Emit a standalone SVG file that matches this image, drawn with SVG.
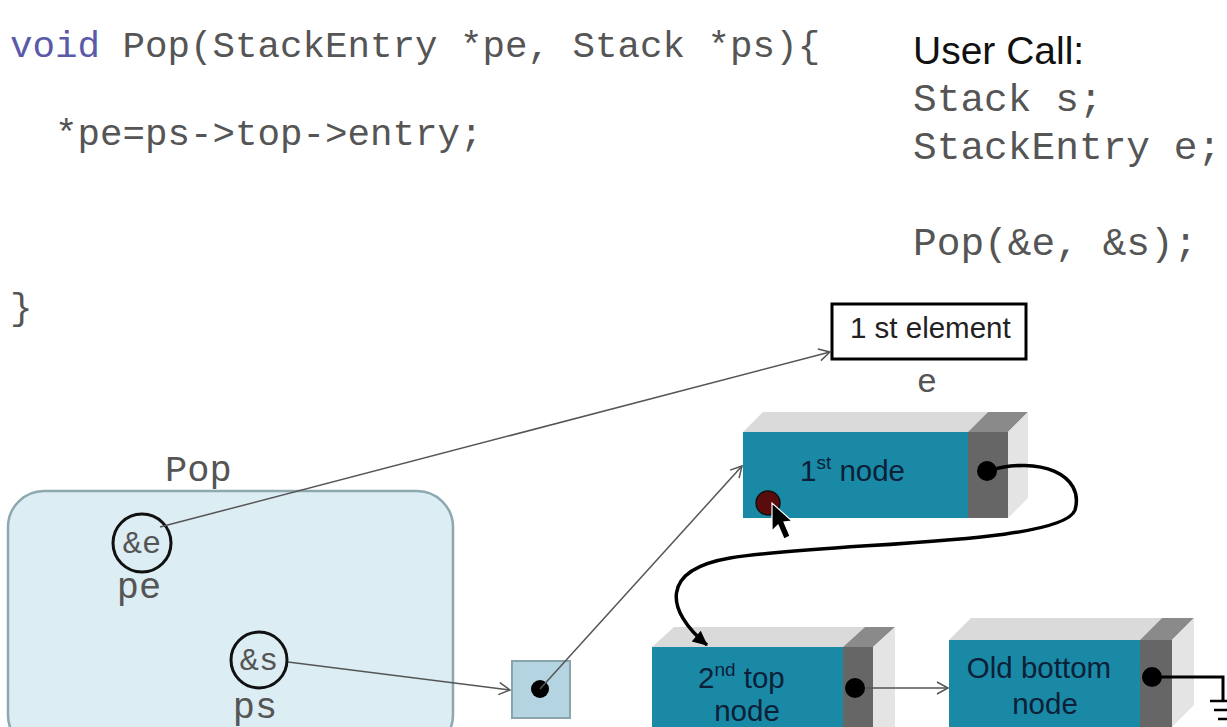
<svg xmlns="http://www.w3.org/2000/svg" width="1227" height="727" viewBox="0 0 1227 727">
<style>
.code{font-family:"Liberation Mono","Courier New",monospace;fill:#555555}
.sans{font-family:"Liberation Sans",Arial,sans-serif}
.node{font-family:"Liberation Sans",Arial,sans-serif;font-size:29.5px;fill:#0c2038}
.teal{fill:#1a89a6}
.grayf{fill:#666666}
.top{fill:#dadada}
.topd{fill:#8a8a8a}
.side{fill:#e4e4e4}
.thin{stroke:#555;stroke-width:1.5;fill:none}
</style>
<defs>
<marker id="open" markerUnits="userSpaceOnUse" markerWidth="16" markerHeight="16" refX="13" refY="8" orient="auto">
<path d="M2,2 L13,8 L2,14" fill="none" stroke="#555" stroke-width="1.5"/>
</marker>
<marker id="solid" markerUnits="userSpaceOnUse" markerWidth="20" markerHeight="20" refX="16" refY="10" orient="auto">
<path d="M2,3 L17,10 L2,17 Z" fill="#000"/>
</marker>
</defs>
<rect width="1227" height="727" fill="#ffffff"/>

<g id="code">
<text class="code" x="10" y="57" font-size="37.5"><tspan fill="#5a5aa8">void</tspan> Pop(StackEntry *pe, Stack *ps){</text>
<text class="code" x="55" y="145" font-size="37.5">*pe=ps-&gt;top-&gt;entry;</text>
<text class="code" x="10" y="319" font-size="37.5">}</text>
</g>

<g id="usercall">
<text class="sans" x="913" y="64" font-size="39" fill="#111">User Call:</text>
<text class="code" x="913" y="111" font-size="39.5">Stack s;</text>
<text class="code" x="913" y="159" font-size="39.5">StackEntry e;</text>
<text class="code" x="913" y="255" font-size="39.5">Pop(&amp;e, &amp;s);</text>
</g>

<g id="pop-frame">
<rect x="8" y="491" width="445" height="260" rx="36" fill="#dcedf3" stroke="#8ea8b0" stroke-width="2.5"/>
<text class="code" x="165" y="481" font-size="37" fill="#555">Pop</text>
</g>

<g id="pe">
<circle cx="142" cy="543" r="29" fill="none" stroke="#111" stroke-width="3"/>
<text class="code" x="142" y="553" font-size="32" text-anchor="middle" fill="#333">&amp;e</text>
<text class="code" x="139" y="598" font-size="37" text-anchor="middle" fill="#444">pe</text>
</g>

<g id="ps">
<circle cx="259" cy="660" r="28" fill="none" stroke="#111" stroke-width="3"/>
<text class="code" x="259" y="670" font-size="32" text-anchor="middle" fill="#333">&amp;s</text>
<text class="code" x="255" y="718" font-size="37" text-anchor="middle" fill="#444">ps</text>
</g>

<g id="stack-s">
<rect x="512" y="661" width="58" height="57" fill="#b4d4e1" stroke="#8aa4ad" stroke-width="2"/>
<circle cx="540" cy="689" r="9" fill="#000"/>
</g>

<g id="element-e">
<rect x="832" y="304" width="194" height="55" fill="#fff" stroke="#000" stroke-width="3"/>
<text class="sans" x="850" y="338" font-size="29.5" fill="#222">1 st element</text>
<text class="code" x="927" y="392" font-size="34" text-anchor="middle" fill="#666">e</text>
</g>

<g id="node1">
<polygon class="top" points="743,432 968,432 988,412 763,412"/>
<polygon class="topd" points="968,432 1008,432 1028,412 988,412"/>
<polygon class="side" points="1008,432 1028,412 1028,498 1008,518"/>
<rect class="teal" x="743" y="432" width="225" height="86"/>
<rect class="grayf" x="968" y="432" width="40" height="86"/>
<text class="node" x="800" y="481">1<tspan font-size="19" dy="-12">st</tspan><tspan dy="12"> node</tspan></text>
<circle cx="987" cy="471" r="10" fill="#000"/>
<circle cx="768" cy="503" r="12" fill="#5a0c0c" stroke="#111" stroke-width="1.5"/>
<polygon points="772,503 772,531 778,525 784,539 790,536 784,522 792,521" fill="#000" stroke="#fff" stroke-width="1.2"/>
</g>

<g id="node2">
<polygon class="top" points="652,647 843,647 865,627 674,627"/>
<polygon class="topd" points="843,647 873,647 895,627 865,627"/>
<polygon class="side" points="873,647 895,627 895,727 873,727"/>
<rect class="teal" x="652" y="647" width="191" height="82"/>
<rect class="grayf" x="843" y="647" width="30" height="82"/>
<text class="node" x="698" y="688">2<tspan font-size="19" dy="-12">nd</tspan><tspan dy="12"> top</tspan></text>
<text class="node" x="747" y="721" text-anchor="middle">node</text>
<circle cx="855" cy="688" r="10" fill="#000"/>
</g>

<g id="node3">
<polygon class="top" points="949,640 1140,640 1162,618 971,618"/>
<polygon class="topd" points="1140,640 1172,640 1194,618 1162,618"/>
<polygon class="side" points="1172,640 1194,618 1194,705 1172,727"/>
<rect class="teal" x="949" y="640" width="191" height="87"/>
<rect class="grayf" x="1140" y="640" width="32" height="87"/>
<text class="node" x="1039" y="678" text-anchor="middle">Old bottom</text>
<text class="node" x="1045" y="714" text-anchor="middle">node</text>
<circle cx="1152" cy="677" r="10" fill="#000"/>
</g>

<g id="connectors">
<line class="thin" x1="160" y1="527" x2="830" y2="352" marker-end="url(#open)"/>
<line class="thin" x1="288" y1="662" x2="510" y2="690" marker-end="url(#open)"/>
<line class="thin" x1="540" y1="689" x2="742" y2="466" marker-end="url(#open)"/>
<line class="thin" x1="866" y1="688" x2="948" y2="688" marker-end="url(#open)"/>
<path d="M987,471 C1040,455 1085,475 1075,510 C1062,545 830,542 730,558 C660,570 665,610 707,645" fill="none" stroke="#000" stroke-width="3.5" marker-end="url(#solid)"/>
<path d="M1152,677 L1223,677 L1223,700" fill="none" stroke="#000" stroke-width="3"/>
<path d="M1210,701 L1227,701 M1214,710 L1227,710 M1218,719 L1227,719" fill="none" stroke="#000" stroke-width="2.5"/>
</g>
</svg>
